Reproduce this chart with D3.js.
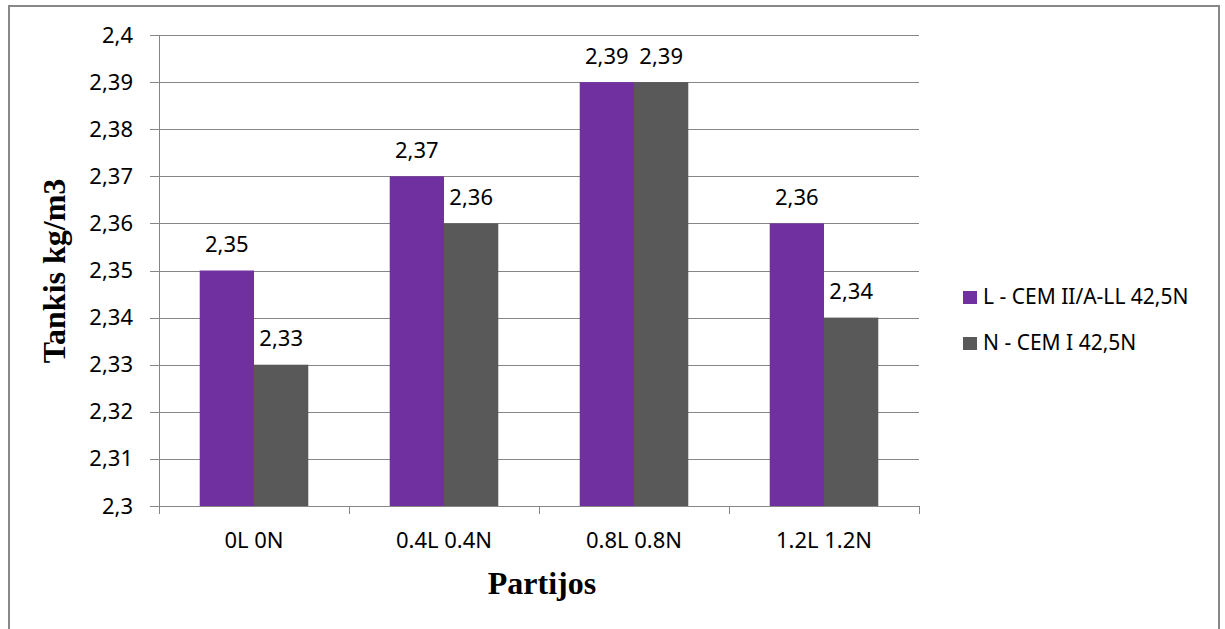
<!DOCTYPE html>
<html>
<head>
<meta charset="utf-8">
<script src="https://cdn.jsdelivr.net/npm/d3@7"></script>
<style>
  body { margin: 0; background: #fff; }
  text { font-family: "Noto Sans", sans-serif; fill: #000; }
</style>
</head>
<body>
<div id="chart"></div>
<script>
// data
const categories = ['0L 0N', '0.4L 0.4N', '0.8L 0.8N', '1.2L 1.2N'];
const seriesNames = ['L - CEM II/A-LL 42,5N', 'N - CEM I 42,5N'];
const seriesL = [2.35, 2.37, 2.39, 2.36];
const seriesN = [2.33, 2.36, 2.39, 2.34];
const yTicks = [2.3, 2.31, 2.32, 2.33, 2.34, 2.35, 2.36, 2.37, 2.38, 2.39, 2.4];
const colors = ['#7030A0', '#595959'];

const width = 1225, height = 629;
const margin = {top: 35, right: 306, bottom: 123, left: 159};
const chartWidth = width - margin.left - margin.right;   // 760
const chartHeight = height - margin.top - margin.bottom; // 471

const fmt = v => String(+v.toFixed(2)).replace('.', ',');

const svg = d3.select('#chart')
  .append('svg')
  .attr('width', width)
  .attr('height', height);

// outer frame
svg.append('rect')
  .attr('x', 9).attr('y', 6)
  .attr('width', 1210).attr('height', 660)
  .attr('fill', 'none')
  .attr('stroke', '#888')
  .attr('stroke-width', 2);

const g = svg.append('g')
  .attr('transform', `translate(${margin.left},${margin.top})`);

const x0 = d3.scaleBand().domain(categories).range([0, chartWidth]);
const x1 = d3.scaleBand().domain(seriesNames).range([0, x0.bandwidth()]).paddingOuter(0.75);
const y = d3.scaleLinear().domain([2.3, 2.4]).range([chartHeight, 0]);

// y axis + gridlines
const yAxis = g.append('g')
  .call(d3.axisLeft(y).tickValues(yTicks).tickFormat(fmt).tickSize(-chartWidth).tickPadding(26));
yAxis.select('.domain').remove();
yAxis.selectAll('.tick line')
  .attr('x1', -9)
  .attr('stroke', '#868686')
  .attr('shape-rendering', 'crispEdges');
yAxis.selectAll('.tick text')
  .attr('font-size', 22)
  .attr('font-family', 'Noto Sans')
  .attr('fill', '#000');
g.append('line')
  .attr('x1', 0).attr('x2', 0)
  .attr('y1', 0).attr('y2', chartHeight)
  .attr('stroke', '#868686')
  .attr('shape-rendering', 'crispEdges');

// x axis
const xAxis = g.append('g')
  .attr('transform', `translate(0,${chartHeight})`)
  .call(d3.axisBottom(x0).tickSize(0).tickPadding(26));
xAxis.select('.domain').remove();
xAxis.selectAll('.tick text')
  .attr('font-size', 22)
  .attr('font-family', 'Noto Sans')
  .attr('fill', '#000');
const bounds = categories.map(c => x0(c)).concat([chartWidth]);
g.append('g').selectAll('line')
  .data(bounds)
  .join('line')
  .attr('x1', d => d).attr('x2', d => d)
  .attr('y1', chartHeight).attr('y2', chartHeight + 8)
  .attr('stroke', '#868686')
  .attr('shape-rendering', 'crispEdges');

// bars
const rows = categories.map((c, i) => ({cat: c, vals: [seriesL[i], seriesN[i]]}));
const groups = g.selectAll('.grp')
  .data(rows)
  .join('g')
  .attr('transform', d => `translate(${x0(d.cat)},0)`);

groups.selectAll('rect')
  .data(d => d.vals.map((v, j) => ({name: seriesNames[j], v, j})))
  .join('rect')
  .attr('x', d => x1(d.name))
  .attr('y', d => y(d.v))
  .attr('width', x1.bandwidth())
  .attr('height', d => chartHeight - y(d.v))
  .attr('fill', d => colors[d.j]);

groups.selectAll('.lbl')
  .data(d => d.vals.map((v, j) => ({name: seriesNames[j], v, j})))
  .join('text')
  .attr('class', 'lbl')
  .attr('x', d => x1(d.name) + x1.bandwidth() / 2)
  .attr('y', d => y(d.v) - 18.5)
  .attr('text-anchor', 'middle')
  .attr('font-size', 22)
  .text(d => fmt(d.v));

// baseline on top of bars
g.append('line')
  .attr('x1', -9).attr('x2', chartWidth)
  .attr('y1', chartHeight).attr('y2', chartHeight)
  .attr('stroke', '#868686')
  .attr('shape-rendering', 'crispEdges');

// axis titles
svg.append('text')
  .attr('transform', 'translate(65,271) rotate(-90)')
  .attr('text-anchor', 'middle')
  .style('font-family', '"Liberation Serif", serif')
  .style('font-weight', 'bold')
  .style('font-size', '32px')
  .text('Tankis kg/m3');

svg.append('text')
  .attr('x', margin.left + chartWidth / 2 + 3)
  .attr('y', 594)
  .attr('text-anchor', 'middle')
  .style('font-family', '"Liberation Serif", serif')
  .style('font-weight', 'bold')
  .style('font-size', '32px')
  .text('Partijos');

// legend
const legend = svg.append('g').attr('transform', 'translate(963,291)');
const items = legend.selectAll('g')
  .data(seriesNames)
  .join('g')
  .attr('transform', (d, i) => `translate(0,${i * 46})`);
items.append('rect')
  .attr('width', 14).attr('height', 13)
  .attr('fill', (d, i) => colors[i]);
items.append('text')
  .attr('x', 20).attr('y', 13)
  .attr('font-size', 21)
  .text(d => d);
</script>
</body>
</html>
